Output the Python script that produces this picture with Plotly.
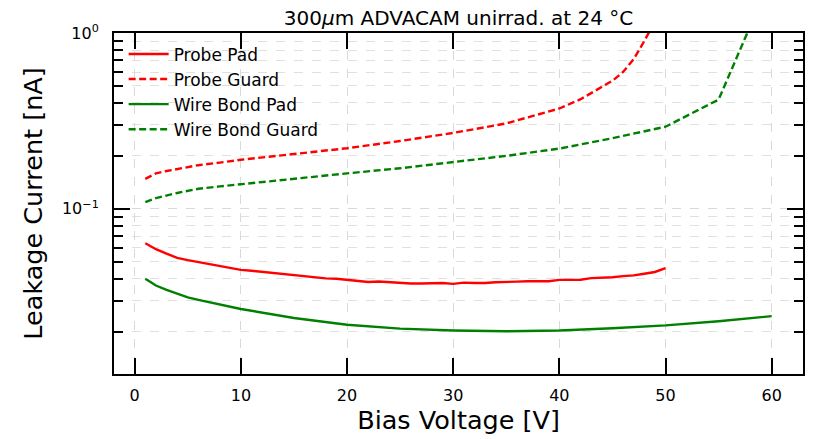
import plotly.graph_objects as go

# ---- data ----
pp_v = list(range(1, 51))
pp_i = [0.0636, 0.0589, 0.0555, 0.0526, 0.0510, 0.0497, 0.0485, 0.0475, 0.0462, 0.0449,
        0.0444, 0.0438, 0.0428, 0.0424, 0.0419, 0.0414, 0.0408, 0.0402, 0.0400, 0.0394,
        0.0388, 0.0383, 0.0386, 0.0383, 0.0378, 0.0376, 0.0376, 0.0377, 0.0378, 0.0374,
        0.0380, 0.0378, 0.0378, 0.0382, 0.0382, 0.0385, 0.0387, 0.0388, 0.0387, 0.0394,
        0.0393, 0.0395, 0.0403, 0.0405, 0.0408, 0.0414, 0.0418, 0.0427, 0.0437, 0.0460]

pg_v = [1, 2, 3, 4, 5, 6, 8, 10, 15, 20, 25, 30, 35, 40, 42, 44, 45, 46, 47, 48, 49, 50]
pg_i = [0.148, 0.159, 0.164, 0.168, 0.173, 0.177, 0.183, 0.190, 0.205, 0.221, 0.243, 0.270,
        0.306, 0.372, 0.42, 0.49, 0.535, 0.60, 0.71, 0.90, 1.15, 1.5]

wp_v = [1, 2, 3, 4, 5, 6, 8, 10, 15, 20, 25, 30, 35, 40, 45, 50, 55, 60]
wp_i = [0.0400, 0.0366, 0.0346, 0.0328, 0.0313, 0.0303, 0.0285, 0.0269, 0.0239, 0.0219,
        0.0208, 0.0203, 0.0201, 0.0203, 0.0209, 0.0217, 0.0229, 0.0245]

wg_v = [1, 2, 4, 6, 8, 10, 15, 20, 25, 30, 35, 40, 45, 50, 55, 60]
wg_i = [0.109, 0.115, 0.123, 0.130, 0.134, 0.138, 0.148, 0.159, 0.170, 0.184, 0.200, 0.220,
        0.252, 0.293, 0.418, 2.1]

x_ticks = [0, 10, 20, 30, 40, 50, 60]
y_major = [0.1, 1]
y_major_text = ["10<sup>−1</sup>", "10<sup>0</sup>"]
y_minor = [k * 10 ** e for e in (-2, -1) for k in range(2, 10)]

FONT = "DejaVu Sans"
LW = 2.4
DASH = "7px,3.5px"

fig = go.Figure()
fig.add_trace(go.Scatter(x=pp_v, y=pp_i, mode="lines", name="Probe Pad",
                         line=dict(color="#ff0000", width=LW)))
fig.add_trace(go.Scatter(x=pg_v, y=pg_i, mode="lines", name="Probe Guard",
                         line=dict(color="#ff0000", width=LW, dash=DASH)))
fig.add_trace(go.Scatter(x=wp_v, y=wp_i, mode="lines", name="Wire Bond Pad",
                         line=dict(color="#008000", width=LW)))
fig.add_trace(go.Scatter(x=wg_v, y=wg_i, mode="lines", name="Wire Bond Guard",
                         line=dict(color="#008000", width=LW, dash=DASH)))

fig.update_layout(
    width=820, height=439,
    margin=dict(l=114, r=17, t=33, b=63),
    paper_bgcolor="white", plot_bgcolor="white",
    font=dict(family=FONT, color="black"),
    title=dict(text="300<i>μ</i>m ADVACAM unirrad. at 24 °C", x=0.5, xref="paper",
               xanchor="center", y=0.958, yanchor="middle",
               font=dict(size=20, family=FONT)),
    showlegend=True,
    legend=dict(x=0.014, y=0.99, xanchor="left", yanchor="top",
                bgcolor="rgba(255,255,255,0)", borderwidth=0,
                font=dict(size=17, family=FONT), tracegroupgap=0,
                itemwidth=40),
)

fig.update_xaxes(
    range=[-1.95, 62.95], tickvals=x_ticks, ticktext=[str(v) for v in x_ticks],
    ticks="inside", ticklen=16, tickwidth=1.8, tickcolor="black",
    showline=True, linecolor="black", linewidth=2, mirror="ticks",
    showgrid=True, gridcolor="#d9d9d9", griddash="dash", gridwidth=1,
    zeroline=False, tickfont=dict(size=16), ticklabelstandoff=6,
    title=dict(text="Bias Voltage [V]", font=dict(size=25.5), standoff=4),
)
fig.update_yaxes(
    type="log", range=[-1.94, 0],
    tickvals=y_major, ticktext=y_major_text,
    ticks="inside", ticklen=16, tickwidth=1.8, tickcolor="black",
    showline=True, linecolor="black", linewidth=2, mirror="ticks",
    showgrid=True, gridcolor="#d9d9d9", griddash="dash", gridwidth=1,
    zeroline=False, tickfont=dict(size=16), ticklabelstandoff=10,
    minor=dict(tickvals=y_minor, ticks="inside", ticklen=9, tickwidth=1.8,
               tickcolor="black", showgrid=True, gridcolor="#e0e0e0",
               griddash="dash", gridwidth=1),
    title=dict(text="Leakage Current [nA]", font=dict(size=25.5), standoff=12),
)

fig.write_html("out.html")
